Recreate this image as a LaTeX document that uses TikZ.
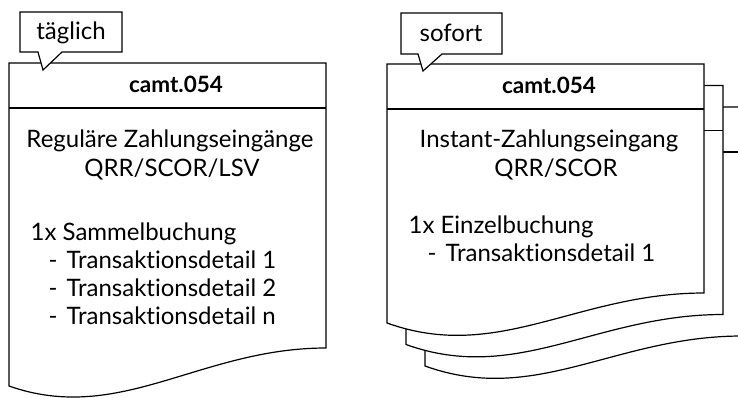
\documentclass[tikz,border=0pt]{standalone}
\usepackage{fontspec}
\setmainfont{Lato}[Ligatures=NoCommon]
\usetikzlibrary{positioning}

\begin{document}
\begin{tikzpicture}[x=1pt,y=-1pt,line width=1.2pt,
		txt/.style={font=\fontsize{24}{28}\selectfont,inner sep=0pt},
		page/.style={draw,fill=white},
		bubble/.style={draw,fill=white}]
		\useasboundingbox (0,0) rectangle (738,398);
		\clip (0,0) rectangle (738,398);

		% daily sheet
		\draw[page] (9,63) -- (326,63) -- (326,348)
			.. controls (200,348) and (120,425) .. (9,386) -- cycle;
		\draw (9,108) -- (326,108);

		% instant sheets, back to front
		\foreach \k in {2,1,0}{
			\begin{scope}[shift={(19*\k,21.5*\k)}]
				\draw[page] (387,64) -- (704,64) -- (704,293)
					.. controls (577,293) and (498,363) .. (387,323) -- cycle;
				\draw (387,109) -- (704,109);
			\end{scope}
		}

		% speech bubbles
		\draw[bubble] (20,12) -- (122,12) -- (122,52) -- (62,52) -- (43,70) -- (38,52) -- (20,52) -- cycle;
		\draw[bubble] (401,13) -- (502,13) -- (502,54) -- (442,54) -- (423,71) -- (418,54) -- (401,54) -- cycle;
		\node[txt,anchor=base] (tagL) at (71,40) {täglich};
		\node[txt,anchor=base] (tagR) at (451,42) {sofort};

		% headers
		\begin{scope}[every node/.style={txt,anchor=base,font=\fontsize{22.5}{28}\selectfont\bfseries}]
			\node (headL) at (176,93) {camt.054};
			\node (headR) at (549,94) {camt.054};
		\end{scope}

		% titles
		\begin{scope}[every node/.style={txt,anchor=base}]
			\node (typeL) at (170,148) {Reguläre Zahlungseingänge};
			\node (schemeL) at (172,177) {QRR/SCOR/LSV};
			\node (typeR) at (549,148) {Instant-Zahlungseingang};
			\node (schemeR) at (556,177) {QRR/SCOR};
		\end{scope}

		% postings
		\begin{scope}[every node/.style={txt,anchor=base west}]
			\node (bookL) at (30,240) {1x Sammelbuchung};
			\foreach \i/\n in {1/1,2/2,3/n}
				\node (detL\i) at (48,240+28*\i) {-\hspace{9pt}Transaktionsdetail \n};
			\node (bookR) at (408,233) {1x Einzelbuchung};
			\node (detR1) at (427,261) {-\hspace{9pt}Transaktionsdetail 1};
		\end{scope}
	\end{tikzpicture}
\end{document}
